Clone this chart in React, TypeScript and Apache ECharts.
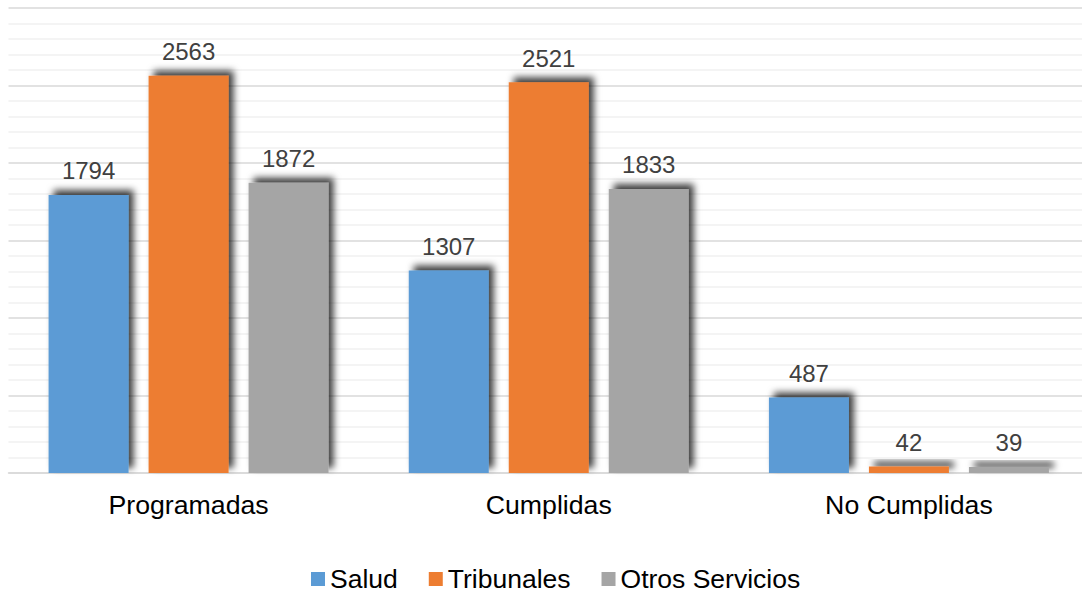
import React, { useEffect, useRef } from "react";
import * as echarts from "echarts";

const categories = ["Programadas", "Cumplidas", "No Cumplidas"];
const salud = [1794, 1307, 487];
const tribunales = [2563, 2521, 42];
const otros = [1872, 1833, 39];
const seriesNames = ["Salud", "Tribunales", "Otros Servicios"];
const colors = ["#5B9BD5", "#ED7D31", "#A5A5A5"];

export default function App() {
  const ref = useRef<HTMLDivElement>(null);
  useEffect(() => {
    if (!ref.current) return;
    const chart = echarts.init(ref.current, undefined, { renderer: "svg" });
    const font = "'Liberation Sans', Arial, sans-serif";
    const datas = [salud, tribunales, otros];
    chart.setOption({
      animation: false,
      backgroundColor: "#ffffff",
      grid: { left: 8.5, right: 0, top: 8, bottom: 122, containLabel: false },
      legend: {
        data: seriesNames,
        top: 563,
        left: 309,
        icon: "rect",
        itemWidth: 14,
        itemHeight: 14,
        itemGap: 31,
        padding: 2,
        textStyle: { fontFamily: font, fontSize: 26.5, lineHeight: 28, color: "#000000" },
      },
      xAxis: {
        type: "category",
        data: categories,
        axisLine: { show: true, lineStyle: { color: "#D9D9D9", width: 1.5 } },
        axisTick: { show: false },
        axisLabel: { fontFamily: font, fontSize: 26.7, color: "#000000", margin: 18 },
      },
      yAxis: {
        type: "value",
        min: 0,
        max: 3000,
        interval: 500,
        axisLabel: { show: false },
        axisLine: { show: false },
        axisTick: { show: false },
        splitLine: { show: true, lineStyle: { color: "#D9D9D9", width: 1.5 } },
        minorTick: { show: false, splitNumber: 5 },
        minorSplitLine: { show: true, lineStyle: { color: "#F0F0F0", width: 1.5 } },
      },
      series: seriesNames.map((name, i) => ({
        name,
        type: "bar",
        data: datas[i],
        barWidth: 80,
        barGap: "25%",
        itemStyle: {
          color: colors[i],
          shadowColor: "rgba(0,0,0,0.75)",
          shadowBlur: 7,
          shadowOffsetX: 5,
          shadowOffsetY: -5,
        },
        label: {
          show: true,
          position: "top",
          distance: 12,
          fontFamily: font,
          fontSize: 24,
          color: "#404040",
        },
      })),
    });
    return () => chart.dispose();
  }, []);
  return (
    <div
      ref={ref}
      style={{ position: "fixed", left: 0, top: 0, width: 1089, height: 595 }}
    />
  );
}
